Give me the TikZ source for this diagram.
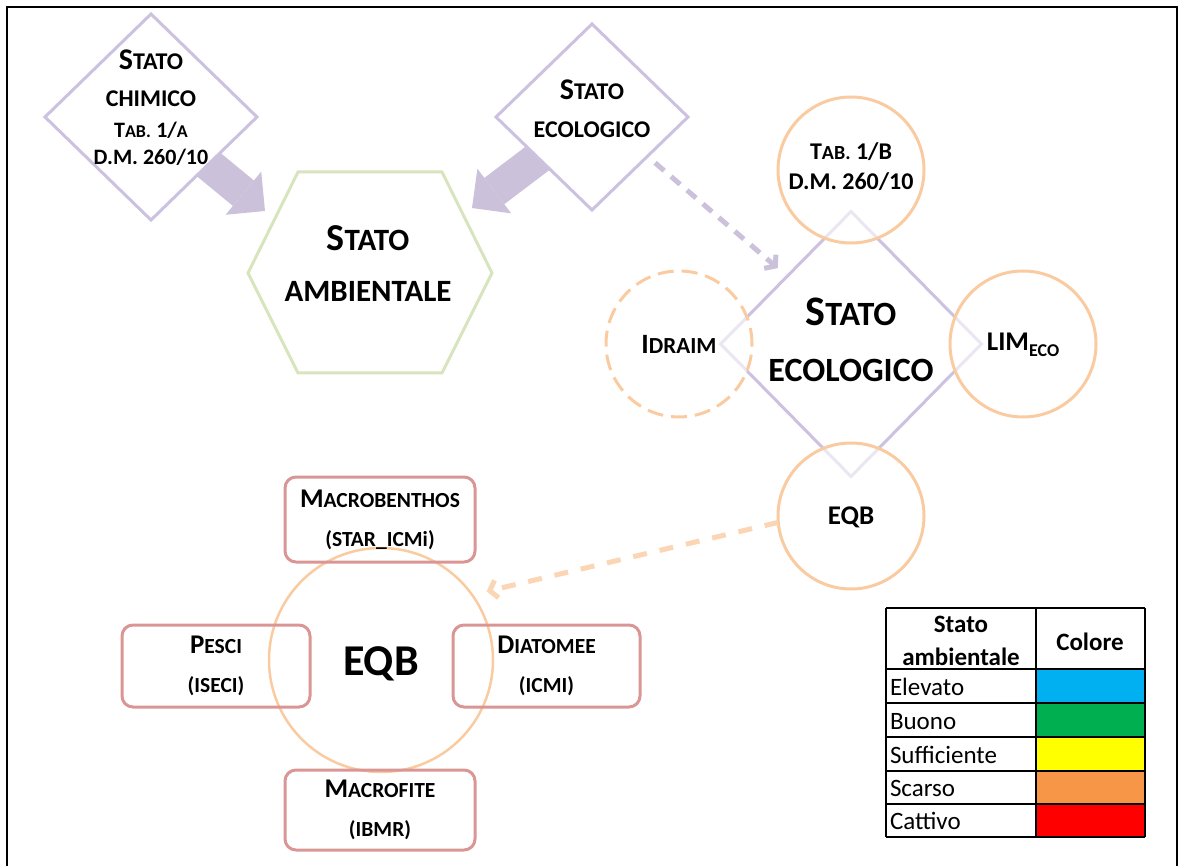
\documentclass[tikz,border=0pt]{standalone}
\usepackage{fontspec}
\setmainfont{Carlito}
\usetikzlibrary{shapes.geometric,arrows.meta,calc}
\definecolor{lav}{RGB}{204,193,218}
\definecolor{lavline}{RGB}{204,194,224}
\definecolor{hexg}{RGB}{215,228,189}
\definecolor{peach}{RGB}{250,203,160}
\definecolor{peachlt}{RGB}{252,213,180}
\definecolor{boxr}{RGB}{217,150,148}
\definecolor{cEl}{RGB}{0,176,240}
\definecolor{cBu}{RGB}{0,176,80}
\definecolor{cSu}{RGB}{255,255,0}
\definecolor{cSc}{RGB}{247,150,70}
\definecolor{cCa}{RGB}{255,0,0}
\newcommand\fsb[2]{{\fontsize{#1}{#1}\selectfont #2}}
\begin{document}
\begin{tikzpicture}[x=1pt,y=-1pt,
  every node/.style={inner sep=0pt, outer sep=0pt},
  lavdiam/.style={diamond, draw=lavline, line width=3pt, fill=white},
  pcirc/.style={circle, draw=peach, line width=3pt, minimum size=146pt, fill=white, fill opacity=0.6, text opacity=1},
  ebox/.style={rectangle, rounded corners=11pt, draw=boxr, line width=3pt, align=center,
     font=\fontsize{21.5}{39}\selectfont\bfseries},
  txt/.style={align=center, text=black},
  blockarrow/.style={draw=lav, line width=33pt, -{Triangle[length=28pt,width=56pt,line width=0pt]}},
  lavdash/.style={draw=lav, line width=5pt, dash pattern=on 12pt off 9pt, -{Straight Barb[length=7pt,width=18pt]}},
  peachdash/.style={draw=peachlt, line width=5pt, dash pattern=on 14pt off 13pt, -{Straight Barb[length=7pt,width=18pt]}},
  grid/.style={draw=black, line width=2pt},
  celltxt/.style={anchor=base west, font=\fontsize{25}{25}\selectfont},
]
\useasboundingbox (0,0) rectangle (1181,866);
\clip (0,0) rectangle (1181,866);
% frame
\draw[line width=2pt] (7,7) rectangle (1177,900);

% free ends of the block arrows
\coordinate (tipA) at (265,211);
\coordinate (tipB) at (472,208);
\coordinate (d1c) at (151,117);
\coordinate (d2c) at (592,117);
\draw[blockarrow] (d1c) -- (tipA);
\draw[blockarrow] (d2c) -- (tipB);

% top diamonds
\node[lavdiam, minimum width=212pt, minimum height=206pt] (d1) at (d1c) {};
\node[txt, font=\fontsize{24}{37}\selectfont\bfseries] (d1t) at (151,108)
  {\fsb{30}{S}TATO\\CHIMICO\\[-6pt]\fsb{22}{T}\fsb{18}{AB.} \fsb{22}{1/}\fsb{18}{A}\\[-10pt]\fsb{22}{D.M. 260/10}};
\node[lavdiam, minimum width=192pt, minimum height=186pt] (d2) at (d2c) {};
\node[txt, font=\fontsize{24}{38}\selectfont\bfseries] (d2t) at (592,109)
  {\fsb{30}{S}TATO\\ECOLOGICO};

% hexagon
\draw[draw=hexg, line width=3pt] (298,172) -- (442,172) -- (492,273) -- (442,373) -- (298,373) -- (248,273) -- cycle;
\node[txt, font=\fontsize{31}{51}\selectfont\bfseries] (hex) at (368,264)
  {\fsb{38}{S}TATO\\AMBIENTALE};

% ecological diamond
\node[lavdiam, minimum width=261pt, minimum height=265pt] (eco) at (851,344) {};
\draw[lavdash] ($(d2.center)!1.15!(d2.-36)$) -- ($(eco.center)!1.134!(eco.134)$);

\node[pcirc] (tab) at (851,170) {};
\node[txt, font=\fontsize{24}{30}\selectfont\bfseries] (tabt) at (851,167)
  {T\fsb{20}{AB.} 1/B\\D.M. 260/10};
\node[pcirc, dash pattern=on 16pt off 8pt] (idr) at (679,344) {};
\node[txt, font=\fontsize{23}{23}\selectfont\bfseries] (idrt) at (679,344) {\fsb{28}{I}DRAIM};
\node[pcirc] (lim) at (1023,344) {};
\node[txt, font=\fontsize{27}{27}\selectfont\bfseries] (limt) at (1023,345) {LIM\raisebox{-6pt}{\fsb{18}{ECO}}};
\node[pcirc] (eqbs) at (851,516) {};
\node[txt, font=\fontsize{27}{27}\selectfont\bfseries] (eqbst) at (851,517) {EQB};

\node[txt, font=\fontsize{34}{56}\selectfont\bfseries] (ecot) at (851,340)
  {\fsb{42}{S}TATO\\ECOLOGICO};

% EQB cluster
\node[circle, draw=peach, line width=2.5pt, minimum size=224pt] (eqbb) at (381,660) {};
\node[txt, font=\fontsize{44}{44}\selectfont\bfseries] (eqbbt) at (381,664) {EQB};
\draw[peachdash] (eqbs.185) -- ($(eqbb.center)!1.125!(eqbb.33)$);

\node[ebox, minimum width=190pt, minimum height=85pt] (mac) at (380,519.5)
  {\fsb{27}{M}ACROBENTHOS\\(STAR\_ICMi)};
\node[ebox, minimum width=188pt, minimum height=82pt] (pes) at (216,666)
  {\fsb{27}{P}ESCI\\(ISECI)};
\node[ebox, minimum width=187pt, minimum height=82pt] (dia) at (546.5,666)
  {\fsb{27}{D}IATOMEE\\(ICMI)};
\node[ebox, minimum width=190pt, minimum height=80pt] (mcf) at (380,810)
  {\fsb{27}{M}ACROFITE\\(IBMR)};

% table
\fill[cEl] (1036,669) rectangle (1145,703);
\fill[cBu] (1036,703) rectangle (1145,737);
\fill[cSu] (1036,737) rectangle (1145,771);
\fill[cSc] (1036,771) rectangle (1145,804);
\fill[cCa] (1036,804) rectangle (1145,837);
\foreach \yy in {608,669,703,737,771,804,837} \draw[grid] (886,\yy) -- (1145,\yy);
\foreach \xx in {886,1036,1145} \draw[grid] (\xx,608) -- (\xx,837);
\node[txt, font=\fontsize{25}{33}\selectfont\bfseries] (th1) at (961,641) {Stato\\ambientale};
\node[txt, font=\fontsize{25}{25}\selectfont\bfseries] (th2) at (1090,642) {Colore};
\node[celltxt] (r1) at (890,695) {Elevato};
\node[celltxt] (r2) at (890,729) {Buono};
\node[celltxt] (r3) at (890,763) {Sufficiente};
\node[celltxt] (r4) at (890,796) {Scarso};
\node[celltxt] (r5) at (890,829) {Cattivo};
\end{tikzpicture}
\end{document}
